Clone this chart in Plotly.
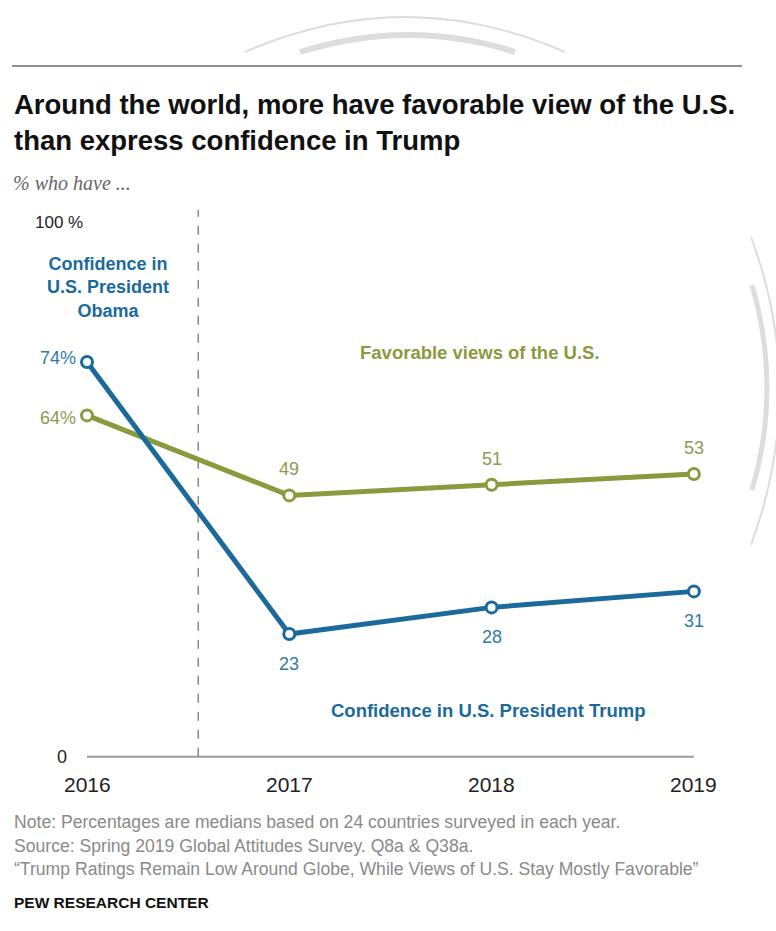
import plotly.graph_objects as go

years = [2016, 2017, 2018, 2019]
favorable = [64, 49, 51, 53]
confidence = [74, 23, 28, 31]
fav_labels = ["64%", "49", "51", "53"]
conf_labels = ["74%", "23", "28", "31"]
year_labels = ["2016", "2017", "2018", "2019"]

BLUE = "#1b6a9b"
BLUE_TXT = "#2f7aab"
GREEN = "#8b9a3e"
GREEN_TXT = "#8e9a52"

W, H = 776, 931
L, R, T, B = 60, 56, 200, 161
PW, PH = W - L - R, H - T - B
Y0_PX, PX_PER_UNIT = 756.7, 5.333   # pixel row of value 0, pixels per percentage point


def px(x):
    return (x - L) / PW


def py(y):
    return (H - B - y) / PH


SANS = "Liberation Sans, Arial, sans-serif"

fig = go.Figure()

fig.add_trace(go.Scatter(
    x=years, y=favorable, mode="lines+markers", cliponaxis=False,
    line=dict(color=GREEN, width=5),
    marker=dict(size=11, color="white", line=dict(color=GREEN, width=3)),
    hoverinfo="skip", showlegend=False))
fig.add_trace(go.Scatter(
    x=years, y=confidence, mode="lines+markers", cliponaxis=False,
    line=dict(color=BLUE, width=5),
    marker=dict(size=11, color="white", line=dict(color=BLUE, width=3)),
    hoverinfo="skip", showlegend=False))

shapes = []
# zero baseline
shapes.append(dict(type="line", xref="x", yref="y", x0=years[0], x1=years[-1], y0=0, y1=0,
                   line=dict(color="#9a9a9a", width=2), layer="below"))
# dashed divider between Obama and Trump eras
shapes.append(dict(type="line", xref="x", yref="y", x0=2016.55, x1=2016.55, y0=0, y1=102.5,
                   line=dict(color="#8a8a8a", width=1.5, dash="dash"), layer="below"))

ann = []
# value labels
for i, (yr, v, t) in enumerate(zip(years, favorable, fav_labels)):
    if i == 0:
        ann.append(dict(x=yr, y=v, xref="x", yref="y", text=t, showarrow=False,
                        xanchor="right", yanchor="middle", xshift=-9, yshift=-3,
                        font=dict(family=SANS, size=18, color=GREEN_TXT)))
    else:
        ann.append(dict(x=yr, y=v, xref="x", yref="y", text=t, showarrow=False,
                        xanchor="center", yanchor="middle", yshift=26,
                        font=dict(family=SANS, size=18, color=GREEN_TXT)))
for i, (yr, v, t) in enumerate(zip(years, confidence, conf_labels)):
    if i == 0:
        ann.append(dict(x=yr, y=v, xref="x", yref="y", text=t, showarrow=False,
                        xanchor="right", yanchor="middle", xshift=-9, yshift=4,
                        font=dict(family=SANS, size=18, color=BLUE_TXT)))
    else:
        ann.append(dict(x=yr, y=v, xref="x", yref="y", text=t, showarrow=False,
                        xanchor="center", yanchor="middle", yshift=-30,
                        font=dict(family=SANS, size=18, color=BLUE_TXT)))

# year labels
for yr, t in zip(years, year_labels):
    ann.append(dict(x=yr, y=py(784), xref="x", yref="paper", text=t, showarrow=False,
                    xanchor="center", yanchor="middle",
                    font=dict(family=SANS, size=21, color="#222222")))
# y-axis labels
ann.append(dict(x=px(33), y=100, xref="paper", yref="y", text="100 %", showarrow=False,
                xanchor="left", yanchor="middle", yshift=1,
                font=dict(family=SANS, size=17, color="#222222")))
ann.append(dict(x=px(62), y=0, xref="paper", yref="y", text="0", showarrow=False,
                xanchor="center", yanchor="middle",
                font=dict(family=SANS, size=18, color="#222222")))

# series labels
ann.append(dict(x=px(108), y=py(287), xref="paper", yref="paper",
                text="<b>Confidence in<br>U.S. President<br>Obama</b>", showarrow=False,
                xanchor="center", yanchor="middle", align="center",
                font=dict(family=SANS, size=18, color=BLUE)))
ann.append(dict(x=px(480), y=py(352), xref="paper", yref="paper",
                text="<b>Favorable views of the U.S.</b>", showarrow=False,
                xanchor="center", yanchor="middle",
                font=dict(family=SANS, size=18.5, color=GREEN)))
ann.append(dict(x=px(488), y=py(710), xref="paper", yref="paper",
                text="<b>Confidence in U.S. President Trump</b>", showarrow=False,
                xanchor="center", yanchor="middle",
                font=dict(family=SANS, size=18.5, color=BLUE)))

# title, subtitle
ann.append(dict(x=px(12), y=py(122), xref="paper", yref="paper", xanchor="left", yanchor="middle",
                text="<b>Around the world, more have favorable view of the U.S.<br>than express confidence in Trump</b>",
                showarrow=False, align="left",
                font=dict(family=SANS, size=27.5, color="#111111")))
ann.append(dict(x=px(11), y=py(183), xref="paper", yref="paper", xanchor="left", yanchor="middle",
                text="<i>% who have ...</i>", showarrow=False,
                font=dict(family="Liberation Serif, Georgia, serif", size=20, color="#666666")))

# notes
notes = [
    "Note: Percentages are medians based on 24 countries surveyed in each year.",
    "Source: Spring 2019 Global Attitudes Survey. Q8a & Q38a.",
    "\u201cTrump Ratings Remain Low Around Globe, While Views of U.S. Stay Mostly Favorable\u201d",
]
for i, n in enumerate(notes):
    ann.append(dict(x=px(12), y=py(822 + 23.5 * i), xref="paper", yref="paper",
                    xanchor="left", yanchor="middle", text=n, showarrow=False,
                    font=dict(family=SANS, size=17.6, color="#8a8a8a")))
ann.append(dict(x=px(12), y=py(902), xref="paper", yref="paper", xanchor="left", yanchor="middle",
                text="<b>PEW RESEARCH CENTER</b>", showarrow=False,
                font=dict(family=SANS, size=15.5, color="#111111")))

# top rule
shapes.append(dict(type="line", xref="paper", yref="paper", x0=px(12), x1=px(742), y0=py(66), y1=py(66),
                   line=dict(color="#222222", width=1.2)))
# decorative watermark arcs
ARC = "#dddddd"
shapes.append(dict(type="path", xref="paper", yref="paper",
                   path="M {},{} Q {},{} {},{}".format(px(245), py(52), px(405), py(-18), px(565), py(52)),
                   line=dict(color=ARC, width=2), layer="below"))
shapes.append(dict(type="path", xref="paper", yref="paper",
                   path="M {},{} Q {},{} {},{}".format(px(300), py(52), px(410), py(18), px(515), py(52)),
                   line=dict(color=ARC, width=6), layer="below"))
shapes.append(dict(type="path", xref="paper", yref="paper",
                   path="M {},{} Q {},{} {},{}".format(px(751), py(237), px(808), py(390), px(751), py(545)),
                   line=dict(color=ARC, width=2), layer="below"))
shapes.append(dict(type="path", xref="paper", yref="paper",
                   path="M {},{} Q {},{} {},{}".format(px(752), py(285), px(782), py(388), px(752), py(490)),
                   line=dict(color=ARC, width=5), layer="below"))

fig.update_layout(
    width=W, height=H,
    margin=dict(l=L, r=R, t=T, b=B),
    paper_bgcolor="white", plot_bgcolor="white",
    xaxis=dict(range=[2016 - 27 / 202.3, 2016 + 633 / 202.3], visible=False, fixedrange=True),
    yaxis=dict(range=[(Y0_PX - (H - B)) / PX_PER_UNIT, (Y0_PX - T) / PX_PER_UNIT],
               visible=False, fixedrange=True),
    annotations=ann,
    shapes=shapes,
)

fig.write_html("out.html")
